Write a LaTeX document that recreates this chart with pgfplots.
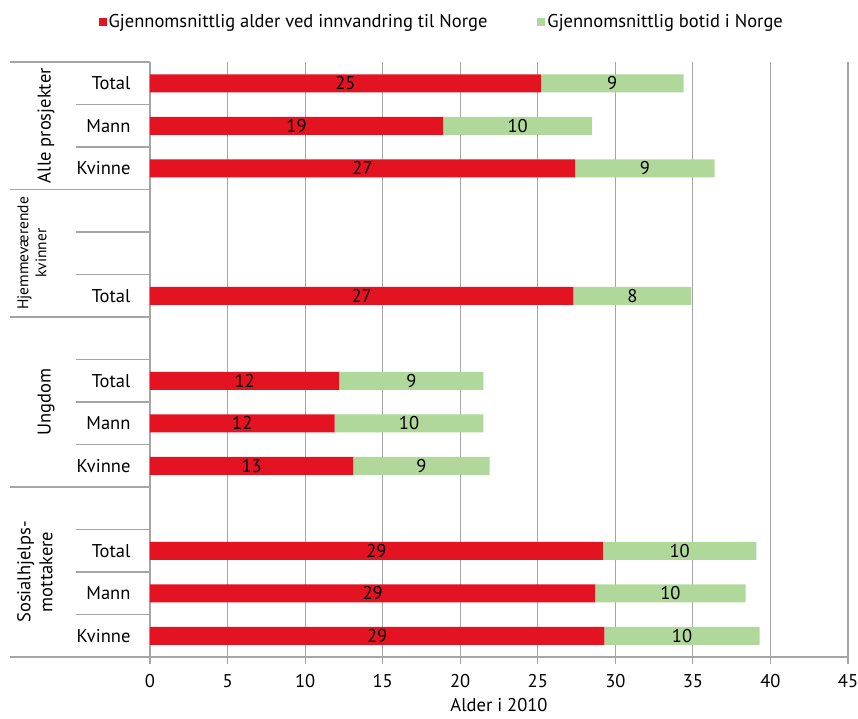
\documentclass[border=0pt]{standalone}
\usepackage{pgfplots}
\pgfplotsset{compat=1.18}
\usepackage{pgfplotstable}
\usepackage{fontspec}
\setmainfont{PT Sans}
\definecolor{barred}{RGB}{227,19,33}
\definecolor{bargreen}{RGB}{177,216,155}
\definecolor{gridgray}{RGB}{165,165,165}

% row, alder ved innvandring, botid
\pgfplotstableread{
row red green
0 25.2 9.2
1 18.9 9.6
2 27.4 9.0
5 27.3 7.6
7 12.2 9.3
8 11.9 9.6
9 13.1 8.8
11 29.2 9.9
12 28.7 9.7
13 29.3 10.0
}\datatable

\begin{document}
\begin{tikzpicture}
\useasboundingbox (-150pt,-61pt) rectangle (708pt,657pt);
\begin{axis}[
  at={(0,0)}, anchor=south west,
  scale only axis, width=698pt, height=595pt,
  font=\fontsize{18.5}{22}\selectfont,
  /pgf/number format/assume math mode=true,
  xbar stacked, bar width=18pt,
  y dir=reverse,
  xmin=0, xmax=45, ymin=-0.5, ymax=13.5,
  xtick={0,5,...,45},
  xmajorgrids, grid style={gridgray, line width=1.2pt},
  axis lines*=left,
  axis line style={gridgray, line width=1.2pt},
  tick align=outside,
  major tick length=7pt,
  xtick style={gridgray, line width=1.2pt},
  xticklabel style={yshift=-7pt},
  xlabel style={yshift=-4pt},
  ytick={0,1,2,5,7,8,9,11,12,13},
  yticklabels={Total,Mann,Kvinne,Total,Total,Mann,Kvinne,Total,Mann,Kvinne},
  ytick style={draw=none},
  yticklabel style={xshift=-9pt},
  xlabel={Alder i 2010},
  clip=false,
  nodes near coords={\pgfmathprintnumber[fixed,precision=0]{\pgfplotspointmeta}},
  every node near coord/.append style={font=\fontsize{18.5}{22}\selectfont, black},
  legend style={at={(0.418,1.067)}, anchor=center, draw=none, legend columns=2,
    /tikz/every even column/.append style={column sep=48pt}},
  legend image code/.code={\fill[#1] (0pt,-4pt) rectangle (8pt,4pt);},
]
\addplot[fill=barred, draw=none] table[x=red, y=row] {\datatable};
\addplot[fill=bargreen, draw=none] table[x=green, y=row] {\datatable};
\legend{Gjennomsnittlig alder ved innvandring til Norge, Gjennomsnittlig botid i Norge}
% separators of the two-level category axis
\pgfplotsinvokeforeach{0.5,1.5,3.5,4.5,6.5,7.5,8.5,10.5,11.5,12.5}{
  \draw[gridgray, line width=1.2pt] ([xshift=-74pt]axis cs:0,#1) -- (axis cs:0,#1);
}
\pgfplotsinvokeforeach{-0.5,2.5,5.5,9.5,13.5}{
  \draw[gridgray, line width=1.2pt] ([xshift=-140pt]axis cs:0,#1) -- (axis cs:0,#1);
}
\node[rotate=90] at ([xshift=-104pt]axis cs:0,1) {Alle prosjekter};
\node[rotate=90, align=center, font=\fontsize{15.5}{18}\selectfont] at ([xshift=-118pt]axis cs:0,4) {Hjemmeværende\\kvinner};
\node[rotate=90] at ([xshift=-104pt]axis cs:0,7.5) {Ungdom};
\node[rotate=90, align=center] at ([xshift=-115pt]axis cs:0,11.5) {Sosialhjelps-\\mottakere};
\end{axis}
\end{tikzpicture}
\end{document}
